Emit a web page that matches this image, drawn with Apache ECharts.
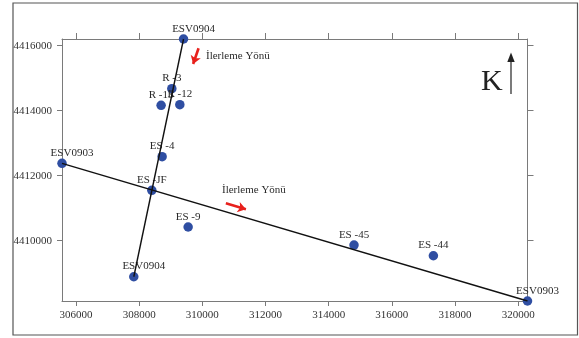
<!DOCTYPE html>
<html>
<head>
<meta charset="utf-8">
<script src="https://cdn.jsdelivr.net/npm/echarts@6/dist/echarts.min.js"></script>
<style>
  html, body { margin: 0; padding: 0; background: #fff; }
  #container { width: 579px; height: 338px; }
</style>
</head>
<body>
<div id="container"></div>
<script>
// station names and UTM coordinates
const stationNames = ['ESV0904', 'R -3', 'R -13', 'R -12', 'ES -4', 'ESV0903', 'ES -JF', 'ES -9', 'ESV0904', 'ES -45', 'ES -44', 'ESV0903'];
const stationX = [309404, 309033, 308694, 309287, 308726, 305556, 308400, 309550, 307829, 314802, 317315, 320295];
const stationY = [4416206, 4414677, 4414166, 4414185, 4412585, 4412382, 4411551, 4410422, 4408892, 4409867, 4409538, 4408146];

// profile lines join the two ends of each ESV profile (index into stations)
const profiles = [[0, 8], [5, 11]];

// direction arrows ("İlerleme Yönü"), start -> end in map coordinates
const arrowFrom = [[309880, 4415920], [310745, 4411151]];
const arrowTo = [[309708, 4415437], [311379, 4410966]];

const xTicks = [306000, 308000, 310000, 312000, 314000, 316000, 318000, 320000];
const yTicks = [4410000, 4412000, 4414000, 4416000];

const FONT = 'Liberation Serif';
const AXIS_COLOR = '#7a7a7a';

let dom = document.getElementById('container');
let myChart = echarts.init(dom, null, { renderer: 'canvas' });

let xMin = Math.min(...stationX), xMax = Math.max(...stationX);
let yMin = Math.min(...stationY), yMax = Math.max(...stationY);

let points = stationNames.map(function (name, i) {
    return { name: name, value: [stationX[i], stationY[i]] };
});

let lineSeries = profiles.map(function (p) {
    return {
        type: 'line',
        data: p.map(function (i) { return [stationX[i], stationY[i]]; }),
        symbol: 'none',
        z: 5,
        silent: true,
        lineStyle: { color: '#111', width: 1.4 }
    };
});

function plain(v) { return String(v); }

function valueAxis(extra) {
    return Object.assign({
        type: 'value',
        scale: true,
        splitLine: { show: false },
        axisLine: { show: true, lineStyle: { color: AXIS_COLOR, width: 1 } },
        axisTick: { show: true, length: 5, lineStyle: { color: AXIS_COLOR } },
        axisLabel: { show: false }
    }, extra);
}

let option = {
    animation: false,
    backgroundColor: '#fff',
    grid: { left: 62, right: 51.5, top: 39, bottom: 37 },
    xAxis: [
        valueAxis({
            position: 'bottom', min: xMin, max: xMax,
            axisTick: { show: true, length: 5, customValues: xTicks, lineStyle: { color: AXIS_COLOR } },
            axisLabel: {
                show: true, customValues: xTicks, margin: 9, formatter: plain,
                color: '#333', fontFamily: FONT, fontSize: 11
            }
        }),
        valueAxis({
            position: 'top', min: xMin, max: xMax,
            axisTick: { show: true, length: 6, customValues: xTicks, lineStyle: { color: AXIS_COLOR } }
        })
    ],
    yAxis: [
        valueAxis({
            position: 'left', min: yMin, max: yMax,
            axisTick: { show: true, length: 5, customValues: yTicks, lineStyle: { color: AXIS_COLOR } },
            axisLabel: {
                show: true, customValues: yTicks, margin: 10, formatter: plain,
                color: '#333', fontFamily: FONT, fontSize: 11
            }
        }),
        valueAxis({
            position: 'right', min: yMin, max: yMax,
            axisTick: { show: true, length: 6, customValues: yTicks, lineStyle: { color: AXIS_COLOR } }
        })
    ],
    series: [
        {
            type: 'scatter',
            data: points,
            symbolSize: 9.5,
            z: 3,
            itemStyle: { color: '#2f4ea2', opacity: 1 },
            label: {
                show: true,
                position: 'top',
                distance: 0,
                color: '#2a2a2a',
                fontFamily: FONT,
                fontSize: 11,
                formatter: function (p) { return p.name; }
            },
            labelLayout: function (params) {
                return params.text.indexOf('ESV') === 0 ? { dx: 10 } : {};
            },
            markLine: {
                silent: true,
                symbol: ['none', 'arrow'],
                symbolSize: [8, 8],
                label: { show: false },
                lineStyle: { color: '#e8201c', width: 2.6, type: 'solid' },
                data: arrowFrom.map(function (a, i) {
                    return [{ coord: a }, { coord: arrowTo[i] }];
                })
            }
        }
    ].concat(lineSeries),
    graphic: [
        {
            type: 'rect', silent: true, z: -1,
            shape: { x: 13, y: 3, width: 564.5, height: 332 },
            style: { fill: 'none', stroke: '#555', lineWidth: 1.2 }
        },
        {
            type: 'text', left: 206, top: 51,
            style: { text: 'İlerleme Yönü', font: '11px "Liberation Serif"', fill: '#2a2a2a' }
        },
        {
            type: 'text', left: 222, top: 185,
            style: { text: 'İlerleme Yönü', font: '11px "Liberation Serif"', fill: '#2a2a2a' }
        },
        {
            type: 'text', left: 481, top: 67,
            style: { text: 'K', font: '30px "Liberation Serif"', fill: '#222' }
        },
        {
            type: 'line', silent: true,
            shape: { x1: 511, y1: 94, x2: 511, y2: 60 },
            style: { stroke: '#333', lineWidth: 1.3 }
        },
        {
            type: 'polygon', silent: true,
            shape: { points: [[511, 52.5], [507.3, 62], [514.7, 62]] },
            style: { fill: '#222' }
        }
    ]
};
myChart.setOption(option);
</script>
</body>
</html>
